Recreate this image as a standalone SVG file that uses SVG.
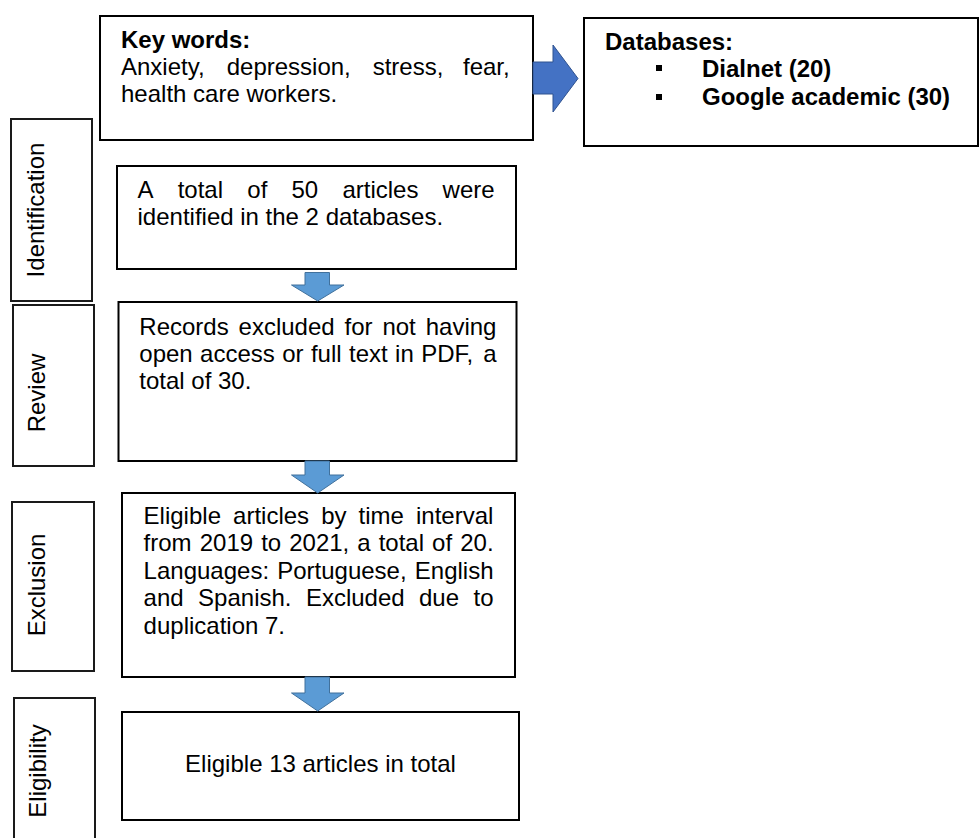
<svg xmlns="http://www.w3.org/2000/svg" width="980" height="838" viewBox="0 0 980 838">
<style>
.box{fill:#fff;stroke:#000;stroke-width:2}
.lbl{fill:#fff;stroke:#1a1a1a;stroke-width:2}
text{font-family:"Liberation Sans",Arial,sans-serif;font-size:24px;fill:#000}
.b{font-weight:bold}
.vt{text-anchor:middle}
.down{fill:#5B9BD5;stroke:#41719C;stroke-width:1}
.right{fill:#4472C4;stroke:#2F528F;stroke-width:1}
</style>
<rect width="980" height="838" fill="#fff"/>

<g id="keywords">
<rect class="box" x="100" y="16" width="433" height="124"/>
<text class="b" x="121" y="48">Key words:</text>
<text y="75"><tspan x="121">Anxiety,</tspan><tspan x="226.7">depression,</tspan><tspan x="372.7">stress,</tspan><tspan x="463">fear,</tspan></text>
<text x="121" y="102">health care workers.</text>
</g>

<g id="databases">
<rect class="box" x="584" y="18" width="394" height="128"/>
<text class="b" x="605" y="50">Databases:</text>
<rect x="656" y="65" width="6" height="6" fill="#000"/>
<text class="b" x="702" y="77">Dialnet (20)</text>
<rect x="656" y="94" width="6" height="6" fill="#000"/>
<text class="b" x="702" y="105">Google academic (30)</text>
</g>

<g id="label-identification">
<rect class="lbl" x="11" y="119" width="81" height="182"/>
<text class="vt" x="44" y="210" transform="rotate(-90 44 210)">Identification</text>
</g>

<g id="label-review">
<rect class="lbl" x="13" y="305" width="81" height="161"/>
<text class="vt" x="45" y="393" transform="rotate(-90 45 393)">Review</text>
</g>

<g id="label-exclusion">
<rect class="lbl" x="12" y="502" width="82" height="169"/>
<text class="vt" x="45" y="585" transform="rotate(-90 45 585)">Exclusion</text>
</g>

<g id="label-eligibility">
<rect class="lbl" x="14" y="698" width="81" height="150"/>
<text class="vt" x="46" y="771" transform="rotate(-90 46 771)">Eligibility</text>
</g>

<g id="identified">
<rect class="box" x="117" y="166" width="399" height="103"/>
<text y="197.5"><tspan x="137.5">A</tspan><tspan x="177.7">total</tspan><tspan x="247.3">of</tspan><tspan x="291.5">50</tspan><tspan x="342.4">articles</tspan><tspan x="442.6">were</tspan></text>
<text x="137.5" y="225">identified in the 2 databases.</text>
</g>

<g id="records">
<rect class="box" x="118.5" y="302" width="398" height="159"/>
<text y="335"><tspan x="139.3">Records</tspan><tspan x="238.6">excluded</tspan><tspan x="344.5">for</tspan><tspan x="382.4">not</tspan><tspan x="425.7">having</tspan></text>
<text y="362"><tspan x="139.3">open</tspan><tspan x="200.1">access</tspan><tspan x="282.2">or</tspan><tspan x="310.9">full</tspan><tspan x="349">text</tspan><tspan x="395.1">in</tspan><tspan x="421.2">PDF,</tspan><tspan x="483.3">a</tspan></text>
<text x="139.3" y="389">total of 30.</text>
</g>

<g id="eligible-articles">
<rect class="box" x="122" y="493" width="393" height="184"/>
<text y="523.5"><tspan x="143.6">Eligible</tspan><tspan x="233.1">articles</tspan><tspan x="321.2">by</tspan><tspan x="358.6">time</tspan><tspan x="416">interval</tspan></text>
<text y="551"><tspan x="143.6">from</tspan><tspan x="199.7">2019</tspan><tspan x="261.2">to</tspan><tspan x="289.2">2021,</tspan><tspan x="357.3">a</tspan><tspan x="378.7">total</tspan><tspan x="432.1">of</tspan><tspan x="460.2">20.</tspan></text>
<text y="578.5"><tspan x="143.6">Languages:</tspan><tspan x="277.2">Portuguese,</tspan><tspan x="414.8">English</tspan></text>
<text y="606"><tspan x="143.6">and</tspan><tspan x="198.1">Spanish.</tspan><tspan x="305.9">Excluded</tspan><tspan x="419">due</tspan><tspan x="473.5">to</tspan></text>
<text x="143.6" y="633.5">duplication 7.</text>
</g>

<g id="final">
<rect class="box" x="122" y="712" width="397" height="108"/>
<text x="320.5" y="771.5" text-anchor="middle">Eligible 13 articles in total</text>
</g>

<g id="connectors">
<polygon class="right" points="533,62 553,62 553,45 578,78.5 553,112 553,94 533,94"/>
<polygon class="down" points="305,272.5 329.5,272.5 329.5,285 344,285 317.7,301 291.5,285 305,285"/>
<polygon class="down" points="305,461 329.5,461 329.5,475 344,475 317.7,493 291.5,475 305,475"/>
<polygon class="down" points="305,677 329.5,677 329.5,693 344,693 317.7,711 291.5,693 305,693"/>
</g>
</svg>
